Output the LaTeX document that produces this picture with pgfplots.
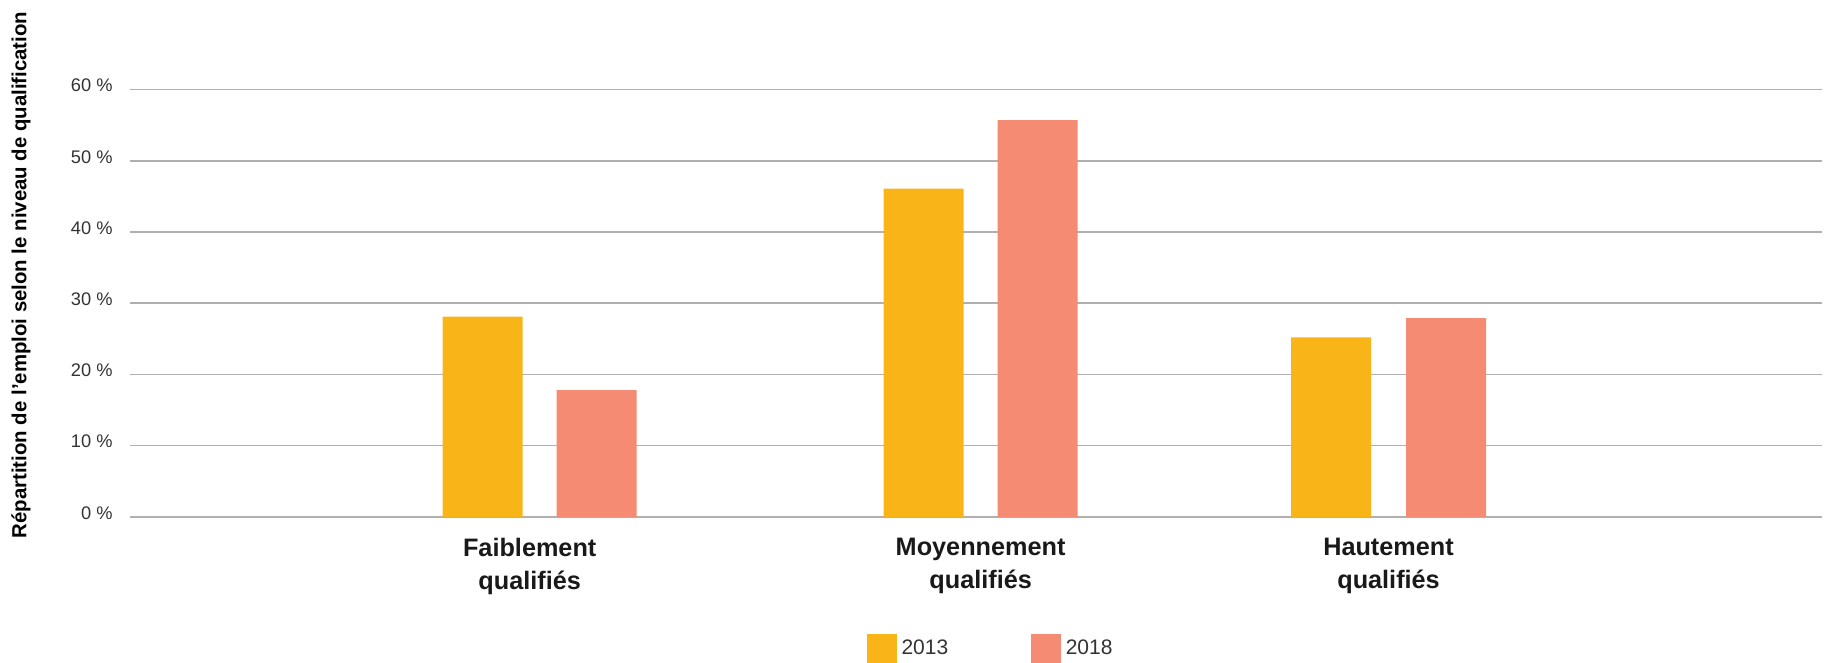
\documentclass[border=0pt]{standalone}
\usepackage{pgfplots}
\pgfplotsset{compat=1.18}
\usepackage{fontspec}
\setmainfont{Liberation Sans}
\definecolor{cyel}{HTML}{F9B418}
\definecolor{csal}{HTML}{F48B72}
\definecolor{cgrid}{HTML}{B0B0B0}
\definecolor{ctxt}{HTML}{333333}
\begin{document}
\begin{tikzpicture}[x=0.4pt,y=0.4pt]
\useasboundingbox (0,0) rectangle (1825,662);
\begin{axis}[
  at={(52pt,58.08pt)}, anchor=south west,
  scale only axis, width=676.8pt, height=170.88pt,
  xmin=130, xmax=1822, ymin=0, ymax=60,
  ybar, bar width=80,
  axis line style={draw=none},
  tick style={draw=none},
  ymajorgrids, grid style={line width=0.7pt, color=cgrid},
  ytick={0,10,20,30,40,50,60},
  yticklabels={0 \%,10 \%,20 \%,30 \%,40 \%,50 \%,60 \%},
  yticklabel style={inner sep=0pt, xshift=-6.8pt, yshift=1.6pt, font=\fontsize{7.3}{8}\selectfont, text=ctxt},
  xtick={529.7,980.6,1388.5},
  xticklabels={{Faiblement\\qualifiés},{Moyennement\\qualifiés},{Hautement\\qualifiés}},
  xticklabel style={align=center, inner sep=0pt, yshift=-4.2pt, font=\fontsize{10.1}{13.2}\selectfont\bfseries, text=black!90},
  ylabel={Répartition de l'emploi selon le niveau de qualification},
  ylabel style={at={(-0.0644,0.566)}, anchor=center, font=\fontsize{8.15}{9}\selectfont\bfseries},
  legend style={at={(0.435,-0.309)}, anchor=west, draw=none, fill=none, inner sep=0pt,
    legend columns=2, /tikz/every even column/.append style={column sep=31pt},
    font=\fontsize{8.4}{10}\selectfont, text=ctxt},
  legend cell align=left,
  legend image code/.code={\fill[#1] (0pt,-6pt) rectangle (12pt,6pt);},
]
\addplot[fill=cyel, draw=none, bar shift=0pt] coordinates {(482.5,28.1) (923.6,46.1) (1331,25.2)};
\addplot[fill=csal, draw=none, bar shift=0pt] coordinates {(596.5,17.8) (1037.6,55.7) (1446,27.9)};
\legend{2013,2018}
\end{axis}
\end{tikzpicture}
\end{document}
